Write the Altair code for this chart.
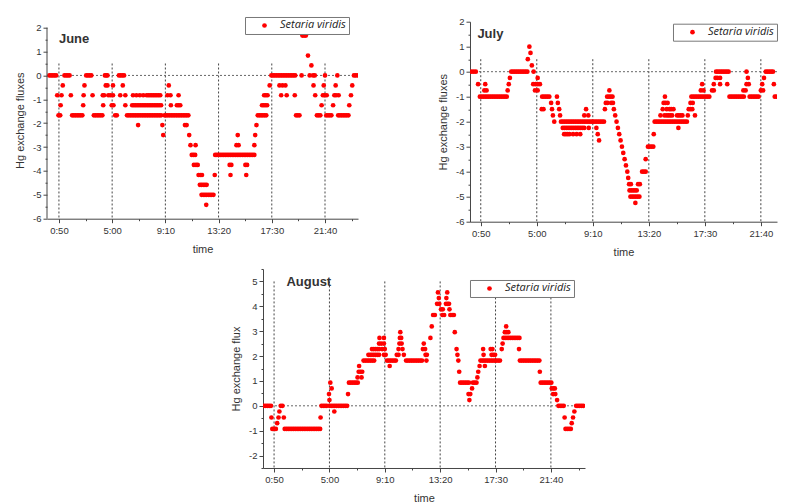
import altair as alt
import pandas as pd

SPECIES = "Setaria viridis"
MAJOR_TIMES = [50, 300, 550, 800, 1050, 1300]
X_TICKS = [50, 175, 300, 425, 550, 675, 800, 925, 1050, 1175, 1300, 1425]
Y_TICKS_JJ = [-6, -5.5, -5, -4.5, -4, -3.5, -3, -2.5, -2, -1.5, -1, -0.5, 0, 0.5, 1, 1.5, 2]
Y_TICKS_AUG = [-2.5, -2, -1.5, -1, -0.5, 0, 0.5, 1, 1.5, 2, 2.5, 3, 3.5, 4, 4.5, 5, 5.5]

# (flux level, [times in minutes after midnight])
june_groups = [
    (0, [5, 13, 21, 29, 37]),
    (-0.83, [42]), (-1.67, [48, 56]), (-1.25, [58]), (-0.83, [62]), (-0.42, [68]),
    (0, [76, 84, 92, 100]),
    (-0.83, [106]),
    (-1.67, [112, 120, 128, 136, 144, 152, 160]),
    (-1.25, [164]), (-0.83, [166]), (-0.42, [170]),
    (0, [178, 186, 194, 202]),
    (-0.83, [208]),
    (-1.67, [214, 222, 230, 238, 246, 254]),
    (-0.83, [256, 262]), (-1.25, [258]),
    (0, [266, 272, 278]), (-0.42, [270, 278]), (-0.83, [282]),
    (-0.83, [292, 304]), (-1.25, [298, 306]), (-0.42, [304]),
    (-1.67, [314, 322]),
    (0, [332, 340, 348, 356]), (-0.83, [338, 362]), (-0.42, [350]), (-1.25, [362]),
    (-1.67, [370, 378, 386, 394, 402, 410, 418, 426, 434, 442, 450, 458, 466, 474,
             482, 490, 498, 506, 514, 522, 530]),
    (-1.25, [394, 402, 410, 418, 426, 434, 442, 450, 458, 466, 474, 482, 490, 498,
             506, 514, 522, 530]),
    (-0.83, [398, 414, 430, 446, 462, 470, 478, 486, 494, 502, 510, 518, 526]),
    (-2.08, [422, 536]), (-2.5, [540]),
    (-1.67, [546, 554, 562, 570, 578, 586, 594, 602, 610, 618, 626, 634, 642, 650, 658]),
    (-0.42, [566]), (-0.83, [560, 574, 612]), (-1.25, [576, 604, 612, 620]),
    (-2.08, [642, 650]), (-2.5, [662]),
    (-2.92, [668, 692]), (-3.33, [674, 682, 690]), (-3.75, [684, 694, 702]),
    (-4.17, [706, 714, 722]), (-4.58, [712, 720, 728, 736, 744]),
    (-5.0, [720, 728, 736, 744, 752, 760, 768, 776]), (-5.42, [742]), (-4.17, [782]),
    (-3.33, [784, 792, 800, 808, 816, 824, 832, 840, 848, 856, 864, 872, 880, 888,
             896, 904, 912, 920, 928, 936, 944, 952, 960, 968]),
    (-3.75, [852, 860, 926, 934]), (-4.17, [856, 930]),
    (-2.92, [884, 894, 968]), (-2.5, [890, 972]), (-2.08, [978]),
    (-1.67, [984, 992, 1000, 1008, 1016, 1024]),
    (-1.25, [1004, 1012, 1020, 1028]), (-0.83, [1014, 1022, 1030]), (-0.42, [1040]),
    (0, [1048, 1056, 1064, 1072, 1080, 1088, 1096, 1104, 1112, 1120, 1128, 1136,
         1144, 1152, 1160]),
    (-0.42, [1086, 1100, 1114]), (-0.83, [1094, 1120, 1158]),
    (-1.67, [1164, 1172, 1180]), (0, [1190]),
    (1.67, [1194, 1202, 1210]), (0.83, [1220]), (0.42, [1236]),
    (0, [1228, 1244, 1252]), (-0.42, [1246]), (-0.83, [1254]),
    (-1.67, [1262, 1270, 1278]), (-1.25, [1284]), (-0.83, [1290, 1298]), (-0.42, [1294]),
    (0, [1300]), (-0.83, [1308]), (-1.67, [1306, 1314, 1322, 1330]), (-1.25, [1338]),
    (-0.83, [1344, 1352, 1364]), (-0.42, [1350]), (0, [1358]),
    (-1.67, [1362, 1370, 1378, 1386, 1394, 1402, 1410]),
    (-1.25, [1414]), (-0.83, [1422]), (-0.42, [1428]),
    (0, [1436, 1444, 1452]),
]

july_groups = [
    (0, [8, 18, 28]),
    (-0.5, [38, 70]),
    (-1.0, [46, 54, 62, 70, 78, 86, 94, 102, 110, 118, 126, 134, 142, 150, 158, 166]),
    (-0.75, [66, 76, 170]), (-0.5, [175]), (-0.25, [180]),
    (0, [186, 194, 202, 210, 218, 226, 234, 242, 250, 258]),
    (0.5, [260]), (1.0, [267]), (0.75, [272]), (0.25, [278]), (0, [286]),
    (-0.5, [284, 294, 304, 314]), (-0.75, [292, 304]), (-0.25, [304]),
    (-1.5, [322, 330]),
    (-1.0, [324, 332, 340, 348, 356]),
    (-1.25, [364]), (-1.5, [368]), (-1.75, [372]), (-2.0, [378]),
    (-1.0, [390]), (-1.25, [394]), (-1.5, [400]), (-1.75, [404]), (-2.0, [408]),
    (-2.0, [416, 424, 432, 440, 448, 456, 464, 472, 480, 488, 496, 504, 512, 520,
            528, 536, 544, 552, 560, 568, 576, 584, 592, 600]),
    (-2.25, [416, 424, 432, 440, 448, 456, 464, 472, 480, 488, 496, 504, 512, 532, 566]),
    (-2.5, [422, 430, 438, 446, 462, 478, 494, 572]),
    (-1.75, [512, 530]), (-1.5, [520]), (-2.75, [578]),
    (-1.5, [604, 644]), (-1.25, [608, 616, 632, 640]), (-1.0, [614, 622, 630, 638]),
    (-0.75, [624]),
    (-1.75, [650]), (-2.0, [656]), (-2.25, [662]), (-2.5, [668]), (-2.75, [674]),
    (-3.0, [680]), (-3.25, [686]), (-3.5, [692]), (-3.75, [698]), (-4.0, [704]),
    (-4.25, [708]),
    (-4.5, [712, 720, 752, 760]),
    (-4.75, [714, 722, 730, 738, 746]),
    (-5.0, [718, 726, 734, 742, 750, 758]),
    (-5.25, [740]),
    (-4.0, [770, 778, 786]), (-3.5, [786]),
    (-3.0, [796, 804, 812, 820]), (-2.5, [822]),
    (-2.0, [826, 834, 842, 850, 858, 866, 874, 882, 890, 898, 906, 914, 922, 930,
            938, 946, 954, 962, 970]),
    (-1.75, [852, 870, 880, 888, 896, 904, 926, 934, 942, 950, 974, 1006]),
    (-1.5, [862, 880, 892, 900, 910, 978, 986, 994]),
    (-1.25, [866, 874, 884, 986, 996]), (-1.0, [872]), (-2.25, [932]),
    (-1.0, [990, 998, 1006, 1014, 1022, 1030, 1038, 1046, 1054, 1062, 1070]),
    (-0.75, [1032, 1044, 1082, 1090]),
    (-0.5, [1038, 1090, 1118, 1150]),
    (-0.25, [1098, 1106, 1118]),
    (0, [1100, 1108, 1116, 1124, 1132, 1140, 1148, 1156]),
    (-1.0, [1160, 1168, 1176, 1184, 1192, 1200, 1208, 1216, 1224]),
    (-0.75, [1222, 1232]), (-0.5, [1236, 1246]), (-0.25, [1242]), (0, [1236]),
    (-1.0, [1250, 1258, 1266, 1274, 1282, 1290]),
    (-0.75, [1300, 1310]), (-0.5, [1306]), (-0.25, [1314]),
    (0, [1322, 1330, 1338, 1346, 1354]),
    (-0.5, [1358]),
    (-1.0, [1362, 1370, 1378, 1386, 1394, 1402]),
    (-0.75, [1396]), (-0.5, [1400]), (-0.25, [1406]), (0.25, [1412]),
]

august_groups = [
    (0, [4, 12, 20, 28, 36]),
    (-0.47, [38]), (-0.93, [42, 50, 58]), (-0.7, [64]), (-0.47, [70]), (-0.23, [74]),
    (0, [80, 88]), (-0.47, [94]),
    (-0.93, [98, 106, 114, 122, 130, 138, 146, 154, 162, 170, 178, 186, 194, 202,
             210, 218, 226, 234, 242, 250, 258]),
    (-0.47, [260]),
    (0, [264, 272, 280, 288]),
    (0.47, [298]), (0.23, [300]), (0.93, [304]), (0.7, [310]),
    (0, [300, 308, 316, 324, 332, 340, 348, 356, 364, 372, 380]),
    (-0.23, [322]),
    (0.47, [384]),
    (0.93, [388, 396, 404, 412, 420, 428]),
    (1.14, [427, 445]), (1.37, [432, 440, 448]), (1.6, [434]),
    (1.82, [454, 462, 470, 478, 486, 494, 502]),
    (2.05, [476, 484, 492, 500, 508, 516, 524, 546, 554]),
    (2.28, [492, 500, 508, 516, 524, 538, 550]),
    (2.5, [524, 534, 546]), (2.73, [526, 546]),
    (1.82, [560, 568, 576, 584, 592, 600]), (1.6, [572]),
    (2.05, [604, 612, 636]), (2.28, [612, 630]), (2.5, [616, 626]),
    (2.73, [618, 624]), (2.96, [620]),
    (1.82, [646, 654, 662, 670, 678, 686, 694, 702, 710, 718]),
    (2.28, [722, 732]), (2.5, [726]), (2.05, [734, 740]), (1.82, [738]),
    (2.73, [756]), (3.19, [762]), (3.65, [768, 776]),
    (4.1, [786, 796]), (4.56, [790]), (4.33, [794]),
    (3.88, [804, 812]), (3.65, [810, 818]),
    (4.1, [826, 834, 840]), (4.33, [828]), (4.56, [832]), (3.88, [842]),
    (3.65, [846, 854, 862]), (2.96, [866]), (2.28, [874]), (2.05, [878]),
    (1.82, [882]), (1.37, [886]),
    (0.93, [890, 898, 906, 914, 922, 930]), (0.47, [928, 936]), (0.23, [932]),
    (0.7, [944]), (0.93, [948, 956, 964]), (1.14, [968]), (1.37, [972]),
    (1.6, [978, 1002]),
    (1.82, [982, 990, 998, 1006, 1014, 1022, 1030, 1038, 1046, 1054, 1062, 1070]),
    (2.05, [996, 1032, 1040, 1048]), (2.28, [994, 1028, 1036, 1078]), (2.5, [1082]),
    (2.73, [1086, 1094, 1102, 1110, 1118, 1126, 1134, 1142, 1150, 1158]),
    (2.96, [1092, 1100, 1108]), (3.19, [1098]), (2.28, [1156]),
    (1.82, [1160, 1168, 1176, 1184, 1192, 1200, 1208, 1216, 1224, 1232, 1240, 1248]),
    (1.37, [1250]),
    (0.93, [1254, 1262, 1270, 1278, 1286, 1294, 1302]),
    (0.7, [1304, 1312, 1318]), (0.47, [1310, 1320]), (0.23, [1328]),
    (0, [1334, 1342, 1350, 1358]),
    (-0.47, [1362]), (-0.93, [1366, 1374, 1382, 1390]), (-0.7, [1394]),
    (-0.47, [1400]), (-0.23, [1406]),
    (0, [1414, 1422, 1430, 1438, 1446]),
]

FONT = "Liberation Sans"
RED = "#ff0000"
DARK = "#333333"


def frame(groups):
    times, fluxes = [], []
    for level, ts in groups:
        for t in ts:
            times.append(t)
            fluxes.append(level)
    return pd.DataFrame({"time": times, "flux": fluxes, "species": SPECIES})


TIME_LABEL = ("datum.value % 250 == 50 ? (floor(datum.value / 60) + ':' + "
              "(datum.value % 60 < 10 ? '0' : '') + (datum.value % 60)) : ''")
Y_LABEL = "datum.value % 1 == 0 ? ((datum.value < 0 ? '-' : '') + abs(datum.value)) : ''"


def x_axis():
    return alt.Axis(values=X_TICKS, labelExpr=TIME_LABEL, title="time",
                    tickSize={"condition": {"test": "datum.value % 250 == 50", "value": 4}, "value": 2},
                    labelPadding=3, minExtent=18, maxExtent=18, titlePadding=6.5,
                    labelOverlap=False, labelFlush=False, grid=False)


def y_axis(title, ticks, domain=True):
    return alt.Axis(values=ticks, title=title, labelExpr=Y_LABEL,
                    tickSize={"condition": {"test": "datum.value % 1 == 0", "value": 4}, "value": 2},
                    labelPadding=2, minExtent=18, maxExtent=18, titlePadding=3.5,
                    labelOverlap=False, labelFlush=False, grid=False, domain=domain)


def panel(groups, month, month_pos, xdom, ydom, width, height, ytitle, yticks,
          grid_top, legend_xy, own_domain_top=None):
    df = frame(groups)
    xs = alt.Scale(domain=xdom, nice=False, zero=False)
    ys = alt.Scale(domain=ydom, nice=False, zero=False)
    xa = x_axis()
    ya = y_axis(ytitle, yticks, domain=own_domain_top is None)

    grid_df = pd.DataFrame({"time": MAJOR_TIMES, "flux": [grid_top] * len(MAJOR_TIMES),
                            "bottom": [ydom[0]] * len(MAJOR_TIMES)})
    vgrid = alt.Chart(grid_df).mark_rule(color="#444444", strokeDash=[2, 2], strokeWidth=1).encode(
        x=alt.X("time:Q", scale=xs, axis=xa),
        y=alt.Y("flux:Q", scale=ys, axis=ya),
        y2="bottom:Q",
    )
    zero = alt.Chart(pd.DataFrame({"flux": [0]})).mark_rule(
        color="#666666", strokeDash=[2, 2], strokeWidth=1).encode(
        y=alt.Y("flux:Q", scale=ys, axis=ya))
    pts = alt.Chart(df).mark_circle(size=22, opacity=1, clip=True).encode(
        x=alt.X("time:Q", scale=xs, axis=xa),
        y=alt.Y("flux:Q", scale=ys, axis=ya),
        color=alt.Color("species:N", scale=alt.Scale(domain=[SPECIES], range=[RED]),
                        legend=alt.Legend(orient="none", legendX=legend_xy[0], legendY=legend_xy[1],
                                          title=None, strokeColor="#777777", fillColor="white",
                                          padding=3, symbolType="circle", symbolSize=22,
                                          symbolOffset=11, labelOffset=10,
                                          labelFont="Open Sans", labelFontStyle="italic",
                                          labelFontSize=11, labelColor="#222222",
                                          symbolStrokeWidth=0)),
    )
    lab = alt.Chart(pd.DataFrame({"time": [month_pos[0]], "flux": [month_pos[1]], "name": [month]})).mark_text(
        align="left", baseline="middle", font=FONT, fontSize=13, fontWeight="bold", color=DARK).encode(
        x=alt.X("time:Q", scale=xs, axis=xa),
        y=alt.Y("flux:Q", scale=ys, axis=ya),
        text="name:N",
    )
    layers = [vgrid, zero, pts, lab]
    if own_domain_top is not None:
        dom = alt.Chart(pd.DataFrame({"time": [xdom[0]], "flux": [ydom[0]], "top": [own_domain_top]})).mark_rule(
            color="#444444", strokeWidth=1).encode(
            x=alt.X("time:Q", scale=xs, axis=xa),
            y=alt.Y("flux:Q", scale=ys, axis=ya),
            y2="top:Q",
        )
        layers.append(dom)
    return alt.layer(*layers).properties(width=width, height=height)


june = panel(june_groups, "June", (50, 1.53), [-6, 1455], [-6, 2.25], 311, 197,
             "Hg exchange fluxes", Y_TICKS_JJ, 0.5, (198, -4.7), own_domain_top=2)
july = panel(july_groups, "July", (35, 1.49), [2, 1372], [-6, 2], 307, 200,
             "Hg exchange fluxes", Y_TICKS_JJ, 0.5, (203, 2))
august = panel(august_groups, "August", (106, 4.97), [0, 1454], [-2.5, 5.5], 322, 199,
               "Hg exchange flux", Y_TICKS_AUG, 5, (207, 11))

spacer = alt.Chart(pd.DataFrame({"v": [0]})).mark_point(opacity=0).encode(
    x=alt.X("v:Q", axis=None), y=alt.Y("v:Q", axis=None)).properties(width=216, height=1)

top_row = alt.hconcat(june, july, spacing=112, bounds="flush").resolve_scale(
    color="independent").resolve_legend(color="independent")
bottom_row = alt.hconcat(spacer, august, spacing=0, bounds="flush").resolve_scale(
    color="independent").resolve_legend(color="independent")

chart = alt.vconcat(top_row, bottom_row, spacing=6.3).resolve_scale(
    color="independent").resolve_legend(color="independent").properties(
    padding={"left": 6, "top": 7.7, "right": 0, "bottom": 0},
).configure_view(stroke=None).configure_axis(
    labelFont=FONT, titleFont=FONT, labelFontSize=9.5, titleFontSize=11,
    labelColor=DARK, titleColor=DARK, titleFontWeight="normal",
    domainColor="#444444", tickColor="#444444",
)

chart.save("out.html", embed_options={"renderer": "svg", "actions": False})
